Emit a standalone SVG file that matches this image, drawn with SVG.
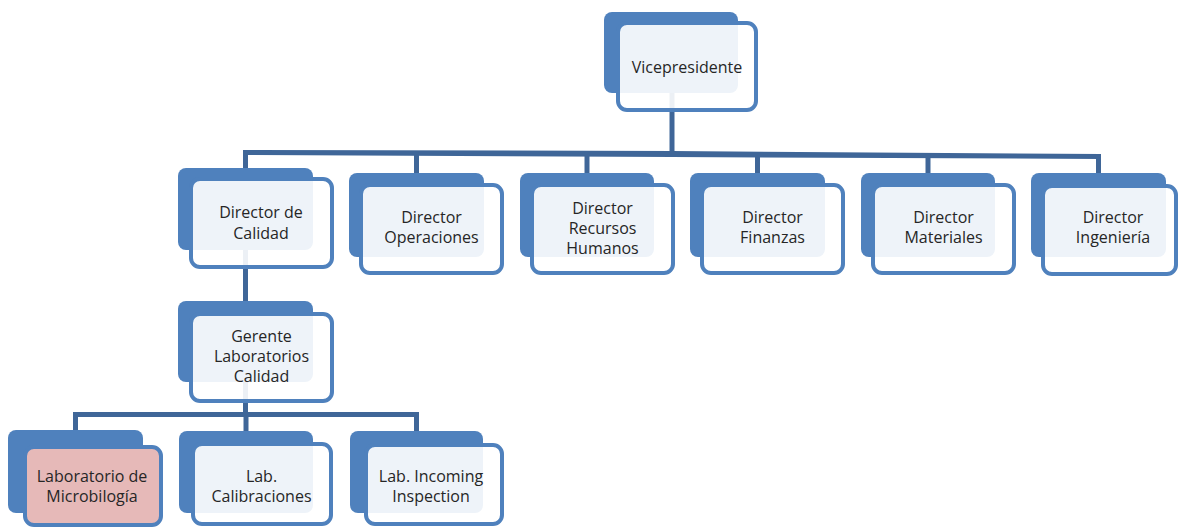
<svg xmlns="http://www.w3.org/2000/svg" width="1178" height="528" viewBox="0 0 1178 528">
  <style>
    .back { fill: #4f81bd; }
    .front { fill: #ffffff; fill-opacity: 0.9; stroke: #4f81bd; stroke-width: 4; }
    .front.pink { fill: #e6b9b8; fill-opacity: 1; }
    .wire { fill: none; stroke: #3f6698; stroke-width: 5; stroke-linejoin: miter; }
    .bar { fill: #3f6698; }
    text { font-family: "Open Sans", "Noto Sans", "Liberation Sans", sans-serif; font-size: 16px; fill: #262626; text-anchor: middle; }
  </style>

  <rect width="1178" height="528" fill="#ffffff"/>

  <!-- connectors (drawn under the boxes) -->
  <g id="connectors">
    <path class="wire" d="M672,93 V154"/>
    <polygon class="bar" points="243,150 672,151 1101,154 1101,159 672,157 243,155"/>
    <path class="wire" d="M245.5,151 V168"/>
    <path class="wire" d="M416.5,151 V173"/>
    <path class="wire" d="M587,152 V173"/>
    <path class="wire" d="M757.5,153 V173"/>
    <path class="wire" d="M928,154 V173"/>
    <path class="wire" d="M1098.5,155 V173"/>
    <path class="wire" d="M245.5,250 V301"/>
    <path class="wire" d="M245.5,382 V415"/>
    <path class="wire" d="M73,414.5 H419"/>
    <path class="wire" d="M75.5,413 V430"/>
    <path class="wire" d="M246,413 V431"/>
    <path class="wire" d="M416.5,413 V431"/>
  </g>

  <g id="vicepresidente">
    <rect class="back" x="604" y="12" width="134" height="81" rx="8"/>
    <rect class="front" x="618" y="23" width="138" height="87" rx="9"/>
    <text x="687" y="73">Vicepresidente</text>
  </g>

  <g id="director-calidad">
    <rect class="back" x="178" y="168" width="135" height="82" rx="8"/>
    <rect class="front" x="191" y="179" width="141" height="88" rx="9"/>
    <text x="261" y="218">Director de</text>
    <text x="261" y="239">Calidad</text>
  </g>

  <g id="director-operaciones">
    <rect class="back" x="349" y="173" width="135" height="84" rx="8"/>
    <rect class="front" x="361" y="185" width="141" height="88" rx="9"/>
    <text x="431.5" y="223">Director</text>
    <text x="431.5" y="243">Operaciones</text>
  </g>

  <g id="director-rrhh">
    <rect class="back" x="520" y="173" width="134" height="84" rx="8"/>
    <rect class="front" x="532" y="185" width="141" height="88" rx="9"/>
    <text x="602.5" y="214">Director</text>
    <text x="602.5" y="234">Recursos</text>
    <text x="602.5" y="254">Humanos</text>
  </g>

  <g id="director-finanzas">
    <rect class="back" x="690" y="173" width="135" height="84" rx="8"/>
    <rect class="front" x="702" y="185" width="141" height="88" rx="9"/>
    <text x="772.5" y="223">Director</text>
    <text x="772.5" y="243">Finanzas</text>
  </g>

  <g id="director-materiales">
    <rect class="back" x="861" y="173" width="134" height="84" rx="8"/>
    <rect class="front" x="873" y="185" width="141" height="88" rx="9"/>
    <text x="943.5" y="223">Director</text>
    <text x="943.5" y="243">Materiales</text>
  </g>

  <g id="director-ingenieria">
    <rect class="back" x="1031" y="173" width="135" height="84" rx="8"/>
    <rect class="front" x="1043" y="186" width="133" height="88" rx="9"/>
    <text x="1113" y="223">Director</text>
    <text x="1113" y="243">Ingeniería</text>
  </g>

  <g id="gerente-laboratorios">
    <rect class="back" x="178" y="301" width="135" height="81" rx="8"/>
    <rect class="front" x="191" y="314" width="141" height="87" rx="9"/>
    <text x="261.5" y="342">Gerente</text>
    <text x="261.5" y="362">Laboratorios</text>
    <text x="261.5" y="382">Calidad</text>
  </g>

  <g id="lab-microbiologia">
    <rect class="back" x="8" y="430" width="135" height="83" rx="8"/>
    <rect class="front pink" x="25" y="447" width="136" height="78" rx="9"/>
    <text x="92" y="482">Laboratorio de</text>
    <text x="92" y="502">Microbilogía</text>
  </g>

  <g id="lab-calibraciones">
    <rect class="back" x="179" y="431" width="134" height="82" rx="8"/>
    <rect class="front" x="193" y="444" width="138" height="80" rx="9"/>
    <text x="261.5" y="482">Lab.</text>
    <text x="261.5" y="502">Calibraciones</text>
  </g>

  <g id="lab-incoming">
    <rect class="back" x="350" y="431" width="133" height="82" rx="8"/>
    <rect class="front" x="366" y="445" width="136" height="79" rx="9"/>
    <text x="431" y="482">Lab. Incoming</text>
    <text x="431" y="502">Inspection</text>
  </g>
</svg>
